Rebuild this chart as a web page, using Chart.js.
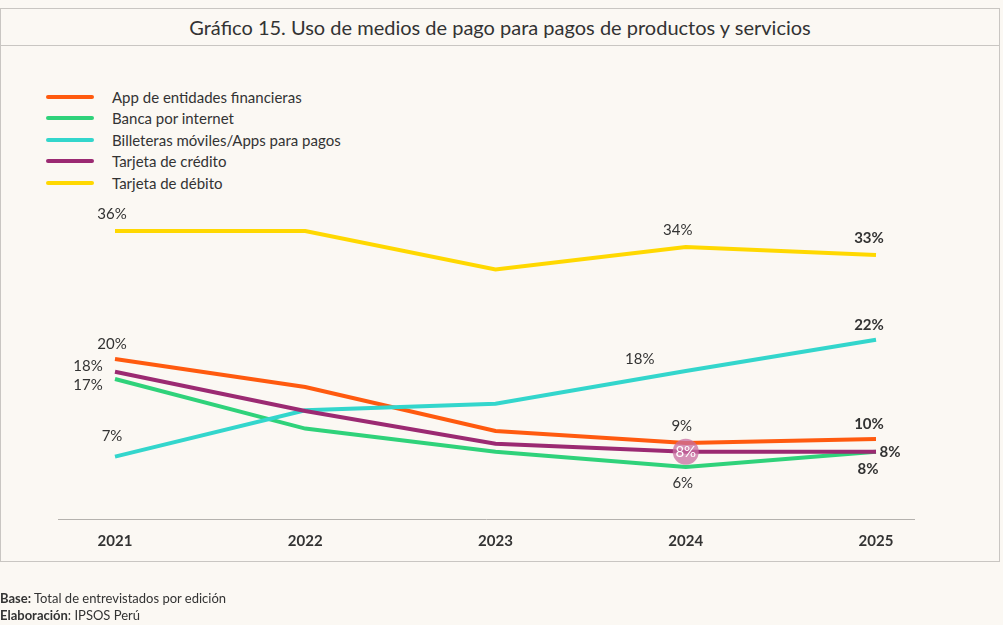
<!DOCTYPE html>
<html><head><meta charset="utf-8">
<script src="https://cdn.jsdelivr.net/npm/chart.js@4"></script>
<style>
  body { margin:0; width:1003px; height:625px; background:#fbf8f3; font-family:Lato, "Open Sans", sans-serif; position:relative; overflow:hidden; }
  #box { position:absolute; left:0; top:8px; width:1000px; height:554px; border:1px solid #c9c6c2; box-sizing:border-box; }
  #title { position:absolute; left:0; top:8px; width:1000px; height:38px; border:1px solid #c9c6c2; box-sizing:border-box; text-align:center; font-size:20px; line-height:36px; color:#333; }
  #legend { position:absolute; left:46px; top:86px; font-size:15px; color:#333; }
  .li { height:21.5px; display:flex; align-items:center; }
  .sw { width:48px; height:4px; border-radius:2px; margin-right:18px; }
  #foot { position:absolute; left:0; top:590px; font-size:13px; color:#333; line-height:17px; }
  canvas { position:absolute; left:0; top:0; }
</style></head>
<body>
<div id="box"></div>
<div id="title">Gráfico 15. Uso de medios de pago para pagos de productos y servicios</div>
<div id="legend"></div>
<div style="position:absolute;left:0;top:0;width:1003px;height:625px"><canvas id="c"></canvas></div>
<div id="foot"><b>Base:</b> Total de entrevistados por edición<br><b>Elaboración</b>: IPSOS Perú</div>
<script>
// data
const years = ["2021", "2022", "2023", "2024", "2025"];
const seriesNames = ["App de entidades financieras", "Banca por internet", "Billeteras móviles/Apps para pagos", "Tarjeta de crédito", "Tarjeta de débito"];
const seriesColors = ["#ff5a0f", "#2fd27a", "#33d6cc", "#9b2a72", "#ffd800"];
const appFin = [20, 16.5, 11, 9.5, 10];
const banca = [17.5, 11.3, 8.4, 6.5, 8.4];
const billeteras = [7.8, 13.6, 14.4, 18.5, 22.4];
const credito = [18.4, 13.5, 9.4, 8.4, 8.4];
const debito = [36, 36, 31.2, 34, 33];
const allSeries = [appFin, banca, billeteras, credito, debito];

// labels: [series index, year index, text, dx, dy, bold]
const pointLabels = [
  [4, 0, "36%", -3, -17, false], [0, 0, "20%", -3, -15, false], [3, 0, "18%", -27, -6, false],
  [1, 0, "17%", -27, 6, false], [2, 0, "7%", -3, -20, false],
  [4, 3, "34%", -8, -17, false], [2, 3, "18%", -46, -12, false], [0, 3, "9%", -4, -17, false],
  [1, 3, "6%", -3, 16, false],
  [4, 4, "33%", -7, -17, true], [2, 4, "22%", -7, -15, true], [0, 4, "10%", -7, -15, true],
  [3, 4, "8%", 14, 0, true], [1, 4, "8%", -8, 17, true]
];

const leg = document.getElementById("legend");
seriesNames.forEach((n, i) => {
  leg.innerHTML += `<div class="li"><span class="sw" style="background:${seriesColors[i]}"></span>${n}</div>`;
});

const decor = {
  id: "decor",
  afterDatasetsDraw(chart) {
    const ctx = chart.ctx, x = chart.scales.x, y = chart.scales.y;
    ctx.save();
    ctx.strokeStyle = "#b5b2ae"; ctx.lineWidth = 1;
    ctx.beginPath(); ctx.moveTo(58, y.getPixelForValue(0) + 0.5); ctx.lineTo(915, y.getPixelForValue(0) + 0.5); ctx.stroke();
    ctx.fillStyle = "#333"; ctx.textAlign = "center"; ctx.textBaseline = "middle";
    ctx.font = "bold 15px Lato";
    years.forEach((yr, i) => ctx.fillText(yr, x.getPixelForValue(i), 541));
    // highlight circle for credit 2024
    const cx = x.getPixelForValue(3), cy = y.getPixelForValue(credito[3]);
    ctx.fillStyle = "rgba(200,110,160,0.75)";
    ctx.beginPath(); ctx.arc(cx, cy, 13, 0, Math.PI * 2); ctx.fill();
    ctx.fillStyle = "#fff"; ctx.font = "15px Lato";
    ctx.fillText("8%", cx, cy);
    ctx.fillStyle = "#333";
    pointLabels.forEach(([s, i, t, dx, dy, b]) => {
      ctx.font = (b ? "bold " : "") + "15px Lato";
      ctx.fillText(t, x.getPixelForValue(i) + dx, y.getPixelForValue(allSeries[s][i]) + dy);
    });
    ctx.restore();
  }
};

new Chart(document.getElementById("c"), {
  type: "line",
  data: {
    labels: years,
    datasets: allSeries.map((d, i) => ({
      label: seriesNames[i], data: d, borderColor: seriesColors[i],
      borderWidth: 4, pointRadius: 0, tension: 0, order: 4 - i
    }))
  },
  options: {
    responsive: true, maintainAspectRatio: false, animation: false,
    layout: { padding: { left: 115, right: 127, top: 159, bottom: 106 } },
    plugins: { legend: { display: false }, tooltip: { enabled: false } },
    scales: {
      x: { display: false },
      y: { display: false, min: 0, max: 45 }
    }
  },
  plugins: [decor]
});
</script>
</body></html>
